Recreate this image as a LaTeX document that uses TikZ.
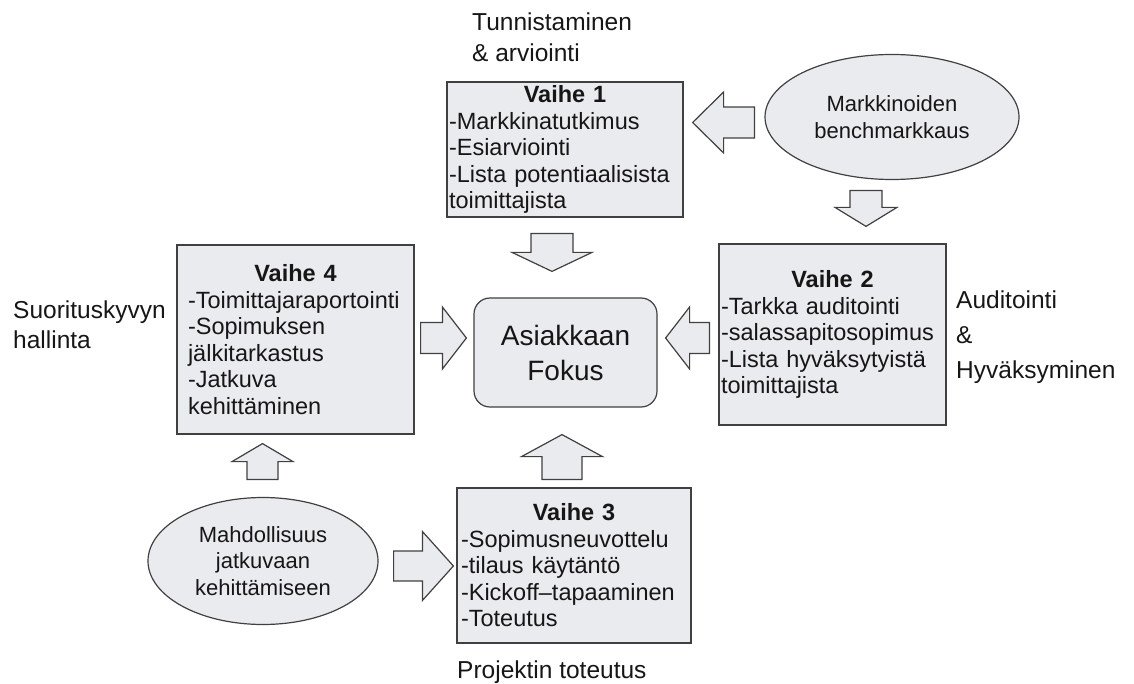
\documentclass[tikz,border=0pt]{standalone}
\usepackage{fontspec}
\setmainfont{Liberation Sans}
\usepackage{xcolor}
\usetikzlibrary{shapes.geometric,calc}

\definecolor{boxfill}{RGB}{234,235,239}
\definecolor{edgegray}{RGB}{64,64,64}
\definecolor{inkblack}{RGB}{22,22,22}

\tikzset{
  vaihebox/.style={draw=edgegray, fill=boxfill, line width=1.2pt, align=left, inner ysep=0pt, text=inkblack, font=\fontsize{23.5}{26.5}\selectfont},
  fokusbox/.style={draw=edgegray, fill=boxfill, line width=1.2pt, rounded corners=16pt, align=center, text=inkblack, font=\fontsize{28}{35}\selectfont},
  ovalbox/.style={ellipse, draw=edgegray, fill=boxfill, line width=1.2pt, align=center, inner sep=0pt, text=inkblack, font=\fontsize{22}{26.5}\selectfont},
  sidelabel/.style={align=left, anchor=west, inner sep=0pt, text=inkblack, font=\fontsize{24.5}{31}\selectfont},
  blockarrow/.style={draw=edgegray, fill=boxfill, line width=1.2pt, line join=miter}
}

\newcommand{\vaihe}[1]{\makebox[\linewidth][c]{\bfseries Vaihe #1}}

% block arrow: tail, tip, shaft half width, head half width, head length
\newcommand{\barrow}[5]{%
  \coordinate (bt) at (#1);
  \coordinate (bh) at (#2);
  \coordinate (bj) at ($(bh)!#5pt!(bt)$);
  \draw[blockarrow] ($(bt)!#3pt!90:(bh)$) -- ($(bj)!#3pt!90:(bh)$) -- ($(bj)!#4pt!90:(bh)$) -- (bh)
    -- ($(bj)!#4pt!-90:(bh)$) -- ($(bj)!#3pt!-90:(bh)$) -- ($(bt)!#3pt!-90:(bh)$) -- cycle;}

\begin{document}
\begin{tikzpicture}[x=1pt, y=-1pt]

    \useasboundingbox (0,0) rectangle (1134,684);

    % Phase boxes
    \node[vaihebox, minimum width=236pt, minimum height=135pt, text width=232pt, inner xsep=2pt] (v1) at (565,149.5)
      {\vaihe{1}\\-Markkinatutkimus\\-Esiarviointi\\-Lista potentiaalisista\\toimittajista};
    \node[vaihebox, minimum width=227pt, minimum height=181pt, text width=223pt, inner xsep=2pt] (v2) at (832.5,334.5)
      {\vaihe{2}\\-Tarkka auditointi\\-salassapitosopimus\\-Lista hyväksytyistä\\toimittajista};
    \node[vaihebox, minimum width=234pt, minimum height=155pt, text width=226pt, inner xsep=4pt] (v3) at (574,565.5)
      {\vaihe{3}\\-Sopimusneuvottelu\\-tilaus käytäntö\\-Kickoff–tapaaminen\\-Toteutus};
    \node[vaihebox, minimum width=237pt, minimum height=189pt, text width=215pt, inner xsep=11pt] (v4) at (295.5,339.5)
      {\vaihe{4}\\\mbox{-Toimittajaraportointi}\\-Sopimuksen\\jälkitarkastus\\-Jatkuva\\kehittäminen};

    % Centre
    \node[fokusbox, minimum width=183pt, minimum height=109pt] (fokus) at (565.5,352.5) {Asiakkaan\\Fokus};

    % Ovals
    \node[ovalbox, minimum width=254pt, minimum height=125pt] (bench) at (892,117) {Markkinoiden\\benchmarkkaus};
    \node[ovalbox, minimum width=230pt, minimum height=127pt] (mahd) at (263,561) {Mahdollisuus\\jatkuvaan\\kehittämiseen};

    % Side labels
    \node[sidelabel] (tunn) at (472,37) {Tunnistaminen\\\& arviointi};
    \node[sidelabel, font=\fontsize{24.5}{35}\selectfont] (audi) at (956,337) {Auditointi\\\&\\Hyväksyminen};
    \node[sidelabel, font=\fontsize{24.5}{30}\selectfont] (suor) at (13,325) {Suorituskyvyn\\hallinta};
    \node[sidelabel, anchor=base west] (proj) at (457,678) {Projektin toteutus};

    % Block arrows
    \barrow{$(v1.south)+(-13,16)$}{$(fokus.north)+(-13.5,-26)$}{21}{40}{19}
    \barrow{$(v4.east)+(6,-1.5)$}{$(fokus.west)+(-7,-14.5)$}{15.5}{31}{24}
    \barrow{$(v2.west)+(-9,3.5)$}{$(fokus.east)+(8,-14.5)$}{15.5}{31}{24}
    \barrow{$(v3.north)+(-12,-8)$}{$(fokus.south)+(-3.5,27)$}{20}{40.5}{22}
    \barrow{$(mahd.north)+(-0.5,-17.5)$}{$(v4.south)+(-33,9)$}{15.5}{30.5}{18}
    \barrow{$(mahd.east)+(15,5)$}{$(v3.west)+(-3,0.5)$}{15}{34.5}{31}
    \barrow{$(bench.west)+(-10,5.5)$}{$(v1.east)+(9,-27)$}{15.5}{30.5}{31}
    \barrow{$(bench.south)+(-26,10.5)$}{$(v2.north)+(33.5,-17)$}{16}{31}{19}

\end{tikzpicture}
\end{document}
